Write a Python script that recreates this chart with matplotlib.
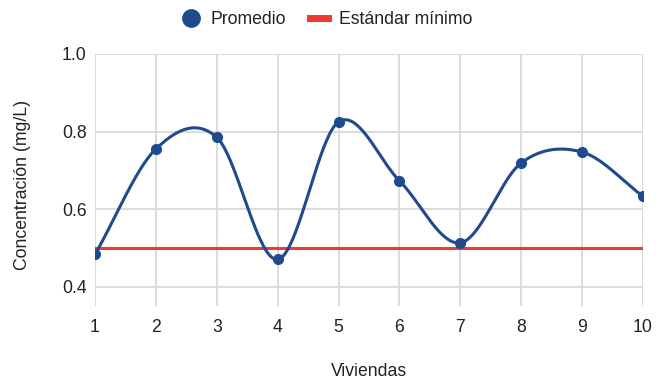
import numpy as np
import matplotlib
matplotlib.use('Agg')
import matplotlib.pyplot as plt
from matplotlib.lines import Line2D

plt.rcParams['font.family'] = ['Liberation Sans', 'DejaVu Sans']

viviendas = [1, 2, 3, 4, 5, 6, 7, 8, 9, 10]
promedio = [0.483, 0.755, 0.785, 0.470, 0.825, 0.673, 0.513, 0.719, 0.747, 0.633]
estandar_minimo = 0.5

BLUE = '#1f4a8d'
RED = '#ee3a35'
GRID = '#d9d9d9'
TEXT = '#222222'
FS = 12.7


def smooth_curve(xs, ys, n=40):
    # cubic hermite with catmull-rom tangents
    xs = np.asarray(xs, float)
    ys = np.asarray(ys, float)
    m = np.zeros_like(ys)
    m[1:-1] = (ys[2:] - ys[:-2]) / (xs[2:] - xs[:-2])
    m[0] = (ys[1] - ys[0]) / (xs[1] - xs[0])
    m[-1] = (ys[-1] - ys[-2]) / (xs[-1] - xs[-2])
    out_x, out_y = [], []
    for i in range(len(xs) - 1):
        h = xs[i + 1] - xs[i]
        t = np.linspace(0, 1, n, endpoint=(i == len(xs) - 2))
        h00 = 2 * t**3 - 3 * t**2 + 1
        h10 = t**3 - 2 * t**2 + t
        h01 = -2 * t**3 + 3 * t**2
        h11 = t**3 - t**2
        out_x.append(xs[i] + t * h)
        out_y.append(h00 * ys[i] + h10 * h * m[i] + h01 * ys[i + 1] + h11 * h * m[i + 1])
    return np.concatenate(out_x), np.concatenate(out_y)


fig = plt.figure(figsize=(6.65, 3.8), dpi=100)
ax = fig.add_axes([95 / 665, 1 - 306 / 380, 548 / 665, 252 / 380])

cx, cy = smooth_curve(viviendas, promedio)
ax.axhline(estandar_minimo, color=RED, lw=2.2, zorder=3)
ax.plot(cx, cy, color=BLUE, lw=2.2, zorder=4, solid_capstyle='round')
ax.plot(viviendas, promedio, 'o', color=BLUE, ms=7, zorder=5)

ax.set_xlim(1, 10)
ax.set_ylim(0.35, 1.0)
ax.set_xticks(viviendas)
ax.set_yticks([0.4, 0.6, 0.8, 1.0])
ax.set_yticklabels(['0.4', '0.6', '0.8', '1.0'])
ax.grid(True, color=GRID, lw=1.3)
ax.set_axisbelow(True)
for s in ax.spines.values():
    s.set_visible(False)
ax.tick_params(axis='both', length=0, labelsize=FS, colors=TEXT)
ax.tick_params(axis='x', pad=9)
ax.tick_params(axis='y', pad=6)

ax.set_xlabel('Viviendas', fontsize=FS, color=TEXT, va='center')
ax.xaxis.set_label_coords(0.5, (8 - 74) / 252)
ax.set_ylabel('Concentración (mg/L)', fontsize=FS, color=TEXT, va='center')
ax.yaxis.set_label_coords((23 - 95) / 548, 0.48)

handles = [
    Line2D([], [], marker='o', ls='none', color=BLUE, ms=12.5),
    Line2D([], [], color=RED, lw=5),
]
fig.legend(handles, ['Promedio', 'Estándar mínimo'], loc='center',
           bbox_to_anchor=(327 / 665, 1 - 20 / 380), ncol=2, frameon=False,
           fontsize=FS, handlelength=1.0, handletextpad=0.6, columnspacing=1.4,
           labelcolor=TEXT)

fig.savefig('out.png', dpi=100)
